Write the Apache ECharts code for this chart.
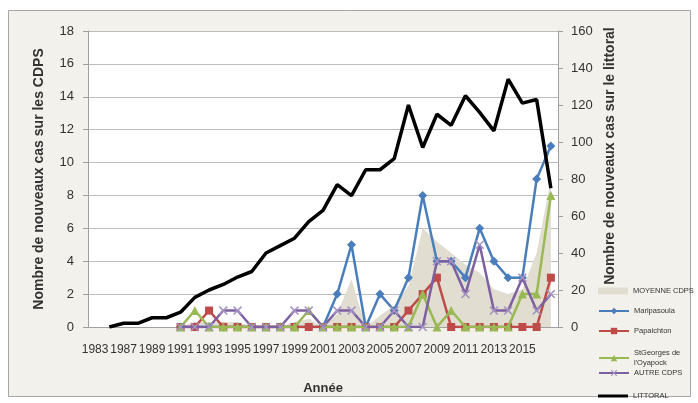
<!DOCTYPE html>
<html>
<head>
<meta charset="utf-8">
<script src="https://cdn.jsdelivr.net/npm/echarts@6/dist/echarts.min.js"></script>
<style>
html,body{margin:0;padding:0;background:#fff;}
#c{width:698px;height:403px;}
</style>
</head>
<body>
<div id="c"></div>
<script>
// Categories (years)
var years = ['1983','1986','1987','1988','1989','1990','1991','1992','1993','1994','1995','1996','1997','1998','1999','2000','2001','2002','2003','2004','2005','2006','2007','2008','2009','2010','2011','2012','2013','2014','2015','2016','2017'];

// Left axis series (CDPS)
var moyenneCdps = [null,null,null,null,null,null,0,0.3,0.3,0.3,0.3,0,0,0,0.3,0.5,0,0.8,2.9,0,0.7,1.3,2.5,6,5.2,4.5,3.8,3.3,2.3,2,2.3,4.5,9];
var maripasoula = [null,null,null,null,null,null,0,0,0,0,0,0,0,0,0,0,0,2,5,0,2,1,3,8,4,4,3,6,4,3,3,9,11];
var papaichton  = [null,null,null,null,null,null,0,0,1,0,0,0,0,0,0,0,0,0,0,0,0,0,1,2,3,0,0,0,0,0,0,0,3];
var stGeorges   = [null,null,null,null,null,null,0,1,0,0,0,0,0,0,0,1,0,0,0,0,0,0,0,2,0,1,0,0,0,0,2,2,8];
var autreCdps   = [null,null,null,null,null,null,0,0,0,1,1,0,0,0,1,1,0,1,1,0,0,1,0,0,4,4,2,5,1,1,3,1,2];

// Right axis series (littoral)
var littoral = [null,0,2,2,5,5,8,16,20,23,27,30,40,44,48,57,63,77,71,85,85,91,120,97,115,109,125,116,106,134,121,123,75];

// Axis ticks
var leftTicks = {min:0, max:18, interval:2};
var rightTicks = {min:0, max:160, interval:20};

var FONT = '"Liberation Sans", Arial, sans-serif';
var xMark = 'path://M0,1.2 L1.2,0 L5,3.8 L8.8,0 L10,1.2 L6.2,5 L10,8.8 L8.8,10 L5,6.2 L1.2,10 L0,8.8 L3.8,5 Z';

var names = ['MOYENNE CDPS','Maripasoula','Papaichton',"StGeorges de\nl'Oyapock",'AUTRE CDPS','LITTORAL'];
var legendTops = [286, 306, 326, 348, 368, 391];

var legends = names.map(function(n, i){
  var item = n;
  var h = 8;
  if (i === 0) { item = {name: n, icon: 'rect'}; h = 7; }
  if (i === 5) { item = {name: n, icon: 'rect'}; h = 3; }
  return {
    data: [item],
    orient: 'vertical',
    left: 598,
    top: legendTops[i],
    itemWidth: 30,
    itemHeight: h,
    itemGap: 0,
    padding: 0,
    selectedMode: false,
    textStyle: {fontSize: 7.5, color: '#333', fontFamily: FONT, lineHeight: 10}
  };
});

var chart = echarts.init(document.getElementById('c'), null, {renderer: 'canvas'});
chart.setOption({
  backgroundColor: '#fff',
  animation: false,
  graphic: [{
    type: 'rect', z: -100, silent: true,
    shape: {x: 8.5, y: 10.5, width: 682, height: 386},
    style: {fill: '#f3f1eb', stroke: '#a6a6a6', lineWidth: 1}
  }],
  legend: legends,
  grid: {left: 88, right: 140, top: 31, bottom: 76, show: true, backgroundColor: '#fff', borderWidth: 0},
  xAxis: {
    type: 'category',
    data: years,
    boundaryGap: true,
    name: 'Année',
    nameLocation: 'middle',
    nameGap: 55,
    nameTextStyle: {fontSize: 13, fontWeight: 'bold', color: '#333', fontFamily: FONT},
    axisLine: {lineStyle: {color: '#a0a0a0'}},
    axisTick: {show: false},
    axisLabel: {
      interval: function(idx){ return idx % 2 === 0 && idx < 32; },
      fontSize: 12, color: '#333', fontFamily: FONT, margin: 17, hideOverlap: false
    },
    splitLine: {show: false}
  },
  yAxis: [{
    type: 'value',
    min: leftTicks.min, max: leftTicks.max, interval: leftTicks.interval,
    name: 'Nombre de nouveaux cas sur les CDPS',
    nameLocation: 'middle', nameRotate: 90, nameGap: 42,
    nameTextStyle: {fontSize: 14, fontWeight: 'bold', color: '#333', fontFamily: FONT},
    axisLine: {show: true, lineStyle: {color: '#a0a0a0'}},
    axisTick: {show: true, length: 5, lineStyle: {color: '#a0a0a0'}},
    axisLabel: {fontSize: 13, color: '#333', fontFamily: FONT, margin: 14},
    splitLine: {show: true, lineStyle: {color: '#bdbdbd', width: 1}}
  }, {
    type: 'value',
    position: 'right',
    min: rightTicks.min, max: rightTicks.max, interval: rightTicks.interval,
    name: 'Nombre de nouveaux cas sur le littoral',
    nameLocation: 'middle', nameRotate: 90, nameGap: 38,
    nameTextStyle: {fontSize: 14, fontWeight: 'bold', color: '#333', fontFamily: FONT, padding: [0, 0, 0, 46]},
    axisLine: {show: true, lineStyle: {color: '#a0a0a0'}},
    axisTick: {show: true, length: 5, lineStyle: {color: '#a0a0a0'}},
    axisLabel: {fontSize: 13, color: '#333', fontFamily: FONT, margin: 13},
    splitLine: {show: false}
  }],
  series: [{
    name: names[0], type: 'line', yAxisIndex: 0, data: moyenneCdps,
    symbol: 'none', lineStyle: {width: 0}, itemStyle: {color: '#e1ddd1'},
    areaStyle: {color: '#e1ddd1', opacity: 1}, z: 1
  }, {
    name: names[1], type: 'line', yAxisIndex: 0, data: maripasoula,
    symbol: 'diamond', symbolSize: 9, showAllSymbol: true,
    lineStyle: {width: 2.5, color: '#4a7ebb'}, itemStyle: {color: '#4a7ebb'}, z: 2
  }, {
    name: names[2], type: 'line', yAxisIndex: 0, data: papaichton,
    symbol: 'rect', symbolSize: 8, showAllSymbol: true,
    lineStyle: {width: 2.5, color: '#be4b48'}, itemStyle: {color: '#be4b48'}, z: 3
  }, {
    name: names[3], type: 'line', yAxisIndex: 0, data: stGeorges,
    symbol: 'triangle', symbolSize: 9, showAllSymbol: true,
    lineStyle: {width: 2.5, color: '#98b954'}, itemStyle: {color: '#98b954'}, z: 4
  }, {
    name: names[4], type: 'line', yAxisIndex: 0, data: autreCdps,
    symbol: xMark, symbolSize: 9, showAllSymbol: true,
    lineStyle: {width: 2.5, color: '#7d60a0'}, itemStyle: {color: '#a592c2'}, z: 5
  }, {
    name: names[5], type: 'line', yAxisIndex: 1, data: littoral,
    symbol: 'none', lineStyle: {width: 3.5, color: '#000'}, itemStyle: {color: '#000'}, z: 6
  }]
});
</script>
</body>
</html>
